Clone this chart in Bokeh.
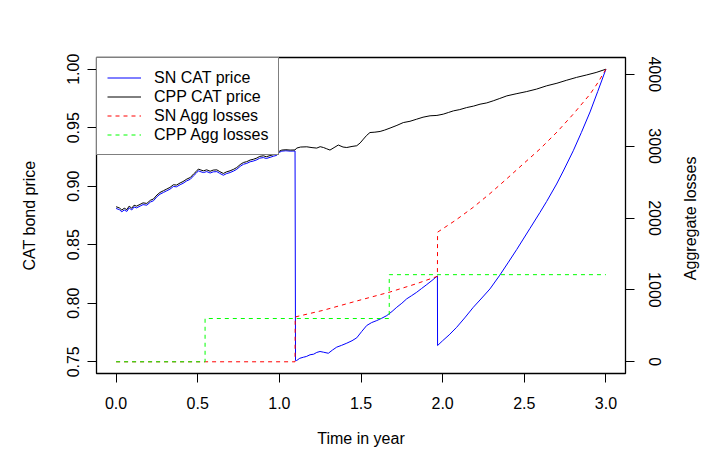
import math
from bokeh.plotting import figure
from bokeh.models import Range1d, LinearAxis, FixedTicker, PrintfTickFormatter, Legend, LegendItem
from bokeh.embed import file_html
from bokeh.resources import INLINE

# ---------------- data ----------------
cpp_t = [0.0, 0.02, 0.035, 0.05, 0.066, 0.08, 0.096, 0.11, 0.125, 0.147, 0.165, 0.188, 0.21, 0.229,
         0.25, 0.269, 0.29, 0.31, 0.33, 0.351, 0.37, 0.392, 0.41, 0.433, 0.455, 0.474, 0.49, 0.504,
         0.52, 0.535, 0.555, 0.576, 0.595, 0.617, 0.635, 0.657, 0.675, 0.698, 0.72, 0.739, 0.76,
         0.78, 0.80, 0.821, 0.84, 0.862, 0.88, 0.902, 0.92, 0.943, 0.965, 0.984, 1.0, 1.015, 1.04,
         1.066, 1.096, 1.106, 1.13, 1.168, 1.2, 1.229, 1.25, 1.27, 1.29, 1.31, 1.335, 1.361, 1.39,
         1.413, 1.445, 1.474, 1.495, 1.515, 1.535, 1.555, 1.585, 1.617, 1.645, 1.678, 1.72, 1.759,
         1.8, 1.841, 1.88, 1.923, 1.965, 2.004, 2.035, 2.066, 2.105, 2.147, 2.19, 2.229, 2.27, 2.31,
         2.35, 2.393, 2.45, 2.515, 2.575, 2.637, 2.7, 2.76, 2.82, 2.882, 2.94, 3.0]
cpp_price = [0.8825, 0.8815, 0.8797, 0.8812, 0.8800, 0.8830, 0.8812, 0.8838, 0.8830, 0.8845, 0.8858,
             0.8853, 0.8880, 0.8891, 0.8925, 0.8947, 0.8962, 0.8976, 0.8990, 0.9013, 0.9010, 0.9028,
             0.9040, 0.9061, 0.9075, 0.9104, 0.9125, 0.9147, 0.9138, 0.9132, 0.9140, 0.9128, 0.9138,
             0.9140, 0.9125, 0.9109, 0.9122, 0.9132, 0.9145, 0.9160, 0.9185, 0.9203, 0.9210, 0.9224,
             0.9230, 0.9241, 0.9255, 0.9260, 0.9252, 0.9262, 0.9270, 0.9275, 0.9300, 0.9309, 0.9312,
             0.9309, 0.9310, 0.9326, 0.9335, 0.9337, 0.9330, 0.9326, 0.9338, 0.9331, 0.9320, 0.9309,
             0.9330, 0.9352, 0.9335, 0.9331, 0.9340, 0.9346, 0.9370, 0.9403, 0.9435, 0.9459, 0.9462,
             0.9468, 0.9480, 0.9497, 0.9520, 0.9544, 0.9555, 0.9573, 0.9590, 0.9602, 0.9605, 0.9616,
             0.9630, 0.9644, 0.9655, 0.9672, 0.9685, 0.9701, 0.9712, 0.9730, 0.9750, 0.9772, 0.9790,
             0.9809, 0.9830, 0.9858, 0.9880, 0.9906, 0.9930, 0.9951, 0.9972, 1.0]

sn_t = [0.0, 0.02, 0.035, 0.05, 0.066, 0.08, 0.096, 0.11, 0.125, 0.147, 0.165, 0.188, 0.21, 0.229,
        0.25, 0.269, 0.29, 0.31, 0.33, 0.351, 0.37, 0.392, 0.41, 0.433, 0.455, 0.474, 0.49, 0.504,
        0.52, 0.535, 0.555, 0.576, 0.595, 0.617, 0.635, 0.657, 0.675, 0.698, 0.72, 0.739, 0.76,
        0.78, 0.80, 0.821, 0.84, 0.862, 0.88, 0.902, 0.92, 0.943, 0.965, 0.984, 1.0, 1.015, 1.04,
        1.066, 1.096, 1.099, 1.106, 1.125, 1.147, 1.165, 1.188, 1.21, 1.229, 1.249, 1.27, 1.30,
        1.325, 1.351, 1.38, 1.413, 1.445, 1.474, 1.505, 1.535, 1.565, 1.596, 1.627, 1.658, 1.69,
        1.719, 1.75, 1.78, 1.81, 1.841, 1.87, 1.903, 1.935, 1.968, 1.969, 2.0, 2.04, 2.086, 2.135,
        2.188, 2.24, 2.29, 2.35, 2.40, 2.454, 2.494, 2.535, 2.596, 2.637, 2.698, 2.739, 2.80,
        2.85, 2.903, 2.95, 3.0]
sn_price = [0.8810, 0.8800, 0.8782, 0.8797, 0.8785, 0.8815, 0.8797, 0.8823, 0.8815, 0.8830, 0.8843,
            0.8838, 0.8865, 0.8876, 0.8910, 0.8932, 0.8947, 0.8961, 0.8975, 0.8998, 0.8995, 0.9013,
            0.9025, 0.9046, 0.9060, 0.9089, 0.9110, 0.9132, 0.9123, 0.9117, 0.9125, 0.9113, 0.9123,
            0.9125, 0.9110, 0.9094, 0.9107, 0.9117, 0.9130, 0.9145, 0.9170, 0.9188, 0.9195, 0.9209,
            0.9215, 0.9226, 0.9240, 0.9245, 0.9237, 0.9247, 0.9257, 0.9264, 0.9290, 0.9300, 0.9303,
            0.9300, 0.9301, 0.7511, 0.7511, 0.7530, 0.7539, 0.7545, 0.7560, 0.7565, 0.7580, 0.7588,
            0.7582, 0.7573, 0.7600, 0.7625, 0.7640, 0.7659, 0.7680, 0.7705, 0.7760, 0.7810, 0.7835,
            0.7852, 0.7872, 0.7895, 0.7930, 0.7966, 0.8000, 0.8038, 0.8065, 0.8094, 0.8125, 0.8160,
            0.8195, 0.8234, 0.7639, 0.7680, 0.7730, 0.7795, 0.7875, 0.7966, 0.8045, 0.8123, 0.8240,
            0.8345, 0.8460, 0.8549, 0.8640, 0.8776, 0.8870, 0.9019, 0.9130, 0.9303, 0.9460, 0.9635,
            0.9810, 1.0]

sn_loss_t = [0.0, 1.096, 1.097, 1.27, 1.474, 1.678, 1.841, 1.968, 1.969, 2.08, 2.188, 2.29,
             2.392, 2.49, 2.596, 2.70, 2.80, 2.903, 2.95, 3.0]
sn_loss = [0, 0, 624, 717, 846, 971, 1087, 1189, 1803, 1970, 2150, 2340,
           2544, 2745, 2960, 3195, 3445, 3723, 3880, 4070]

cpp_loss_t = [0.0, 0.545, 0.545, 1.673, 1.673, 3.0]
cpp_loss = [0, 0, 602, 602, 1212, 1212]

x_ticks = [0.0, 0.5, 1.0, 1.5, 2.0, 2.5, 3.0]
price_ticks = [0.75, 0.80, 0.85, 0.90, 0.95, 1.00]
loss_ticks = [0, 1000, 2000, 3000, 4000]

FONT = "Liberation Sans"
FS = "16px"

loss_max = max(sn_loss)
p = figure(width=710, height=453, output_backend="svg", toolbar_location=None,
           x_range=Range1d(-0.12, 3.12), y_range=Range1d(0.74, 1.01),
           min_border_left=96, min_border_right=84, min_border_top=57, min_border_bottom=80)
p.extra_y_ranges = {"loss": Range1d(-0.04 * loss_max, 1.04 * loss_max)}

p.xgrid.visible = False
p.ygrid.visible = False
p.outline_line_color = "black"
p.outline_line_width = 1.3
p.background_fill_color = "white"
p.border_fill_color = "white"

r_sn = p.line(sn_t, sn_price, line_color="#0000FF", line_width=1)
r_cpp = p.line(cpp_t, cpp_price, line_color="black", line_width=1)
r_snl = p.line(sn_loss_t, sn_loss, line_color="#FF0000", line_width=1, line_dash="4 4",
               y_range_name="loss")
r_cppl = p.line(cpp_loss_t, cpp_loss, line_color="#00FF00", line_width=1, line_dash="4 4",
                y_range_name="loss")

def style_axis(ax):
    ax.axis_line_color = None
    ax.major_tick_in = 0
    ax.major_tick_out = 9
    ax.major_tick_line_color = "black"
    ax.minor_tick_line_color = None
    ax.major_label_text_font = FONT
    ax.major_label_text_font_size = FS
    ax.major_label_text_color = "black"
    ax.axis_label_text_font = FONT
    ax.axis_label_text_font_size = FS
    ax.axis_label_text_font_style = "normal"
    ax.axis_label_text_color = "black"

xa = p.xaxis[0]
style_axis(xa)
xa.ticker = FixedTicker(ticks=x_ticks)
xa.formatter = PrintfTickFormatter(format="%.1f")
xa.axis_label = "Time in year"
xa.major_label_standoff = 14
xa.axis_label_standoff = 18

ya = p.yaxis[0]
style_axis(ya)
ya.ticker = FixedTicker(ticks=price_ticks)
ya.formatter = PrintfTickFormatter(format="%.2f")
ya.axis_label = "CAT bond price"
ya.major_label_orientation = "vertical"
ya.major_label_standoff = 8
ya.axis_label_standoff = 27

ra = LinearAxis(y_range_name="loss", ticker=FixedTicker(ticks=loss_ticks))
style_axis(ra)
ra.major_label_orientation = "vertical"
ra.major_label_standoff = 14
ra.axis_label_standoff = 27
title_text = "Aggregate losses"
try:
    ra.axis_label_align = "start"
    ra.axis_label_orientation = math.pi / 2
    ra.axis_label = "\u00a0" * 21 + title_text
except Exception:
    ra.axis_label_standoff = 18
    ra.axis_label = title_text
p.add_layout(ra, "right")

legend = Legend(items=[LegendItem(label="SN CAT price", renderers=[r_sn]),
                       LegendItem(label="CPP CAT price", renderers=[r_cpp]),
                       LegendItem(label="SN Agg losses", renderers=[r_snl]),
                       LegendItem(label="CPP Agg losses", renderers=[r_cppl])],
                location="top_left")
legend.margin = 0
legend.padding = 10
legend.spacing = 0
legend.label_height = 19
legend.glyph_height = 19
legend.glyph_width = 34
legend.label_standoff = 13
legend.label_text_font = FONT
legend.label_text_font_size = FS
legend.label_text_color = "black"
legend.border_line_color = "black"
legend.border_line_width = 1
legend.background_fill_color = "white"
legend.background_fill_alpha = 1.0
p.add_layout(legend, "center")

open("out.html", "w").write(file_html(p, INLINE))
